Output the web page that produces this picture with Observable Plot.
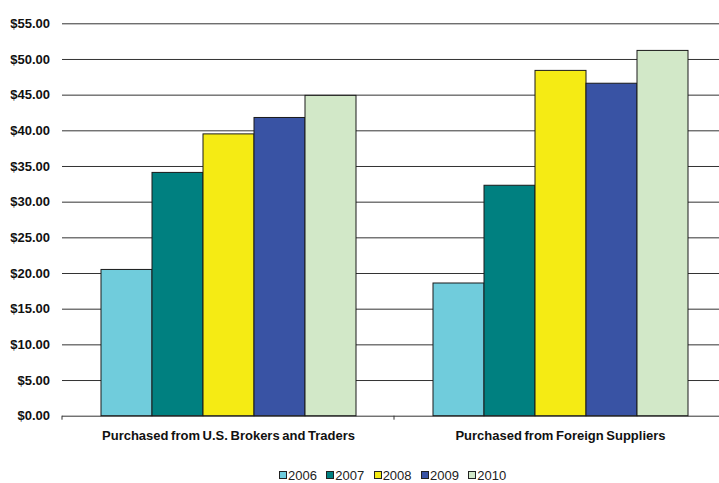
<!DOCTYPE html>
<html><head><meta charset="utf-8">
<script src="https://cdn.jsdelivr.net/npm/d3@7"></script>
<script src="https://cdn.jsdelivr.net/npm/@observablehq/plot@0.6"></script>
<style>
body{margin:0;background:#fff;font-family:"Liberation Sans",Arial,sans-serif;}
#legend{display:flex;align-items:center;height:26px;padding-left:279px;font-size:13px;color:#222;line-height:15px}
.item{display:flex;align-items:center;margin-right:9.4px}
.sw{width:6px;height:6px;border:1px solid #222;margin-right:1px}
svg text{word-spacing:-1px}
</style></head><body><div id="chart"></div><div id="legend"></div>
<script>
const categories = ["Purchased from U.S. Brokers and Traders", "Purchased from Foreign Suppliers"];
const years = ["2006", "2007", "2008", "2009", "2010"];
const colors = ["#70CCDC", "#008080", "#F5EB14", "#3953A4", "#D2E8C8"];
const usBrokers = [20.5, 34.1, 39.5, 41.8, 44.9];
const foreignSuppliers = [18.6, 32.3, 48.4, 46.6, 51.2];
const yTicks = [0, 5, 10, 15, 20, 25, 30, 35, 40, 45, 50, 55];

const data = [];
years.forEach((y, i) => data.push({category: categories[0], year: y, value: usBrokers[i]}));
years.forEach((y, i) => data.push({category: categories[1], year: y, value: foreignSuppliers[i]}));

const plot = Plot.plot({
  width: 719, height: 462,
  marginLeft: 62, marginRight: -7, marginTop: 23.3, marginBottom: 46.3,
  style: {fontFamily: '"Liberation Sans", Arial, sans-serif', fontSize: "13px", fontWeight: "bold", color: "#111", background: "#fff", overflow: "hidden"},
  fx: {domain: categories, padding: 0, label: null, axis: "bottom", tickSize: 0, tickPadding: 15},
  x: {domain: years, paddingInner: 0, paddingOuter: 0.74, axis: null},
  y: {domain: [0, 55], ticks: yTicks, tickFormat: d => "$" + d.toFixed(2), tickSize: 0, tickPadding: 12.5, label: null},
  color: {domain: years, range: colors},
  marks: [
    Plot.ruleY(yTicks, {stroke: "#333", strokeWidth: 1}),
    Plot.barY(data, {fx: "category", x: "year", y: "value", fill: "year", stroke: "#1a1a1a", strokeWidth: 1})
  ]
});
document.getElementById("chart").appendChild(plot);

// category boundary tick marks on the baseline
const fxS = plot.scale("fx"), yS = plot.scale("y");
const fxScale = d3.scaleBand(fxS.domain, fxS.range).paddingInner(0).paddingOuter(0);
const yScale = d3.scaleLinear(yS.domain, yS.range);
const bounds = categories.map(c => fxScale(c)).concat([fxScale(categories[categories.length - 1]) + fxScale.bandwidth()]);
const y0 = yScale(0);
d3.select(plot).append("g").selectAll("line").data(bounds).join("line")
  .attr("x1", d => d).attr("x2", d => d).attr("y1", y0).attr("y2", y0 + 4)
  .attr("stroke", "#333").attr("stroke-width", 1);

// legend
const lg = d3.select("#legend");
years.forEach((y, i) => {
  const it = lg.append("div").attr("class", "item");
  it.append("div").attr("class", "sw").style("background", colors[i]);
  it.append("span").text(y);
});
</script></body></html>
